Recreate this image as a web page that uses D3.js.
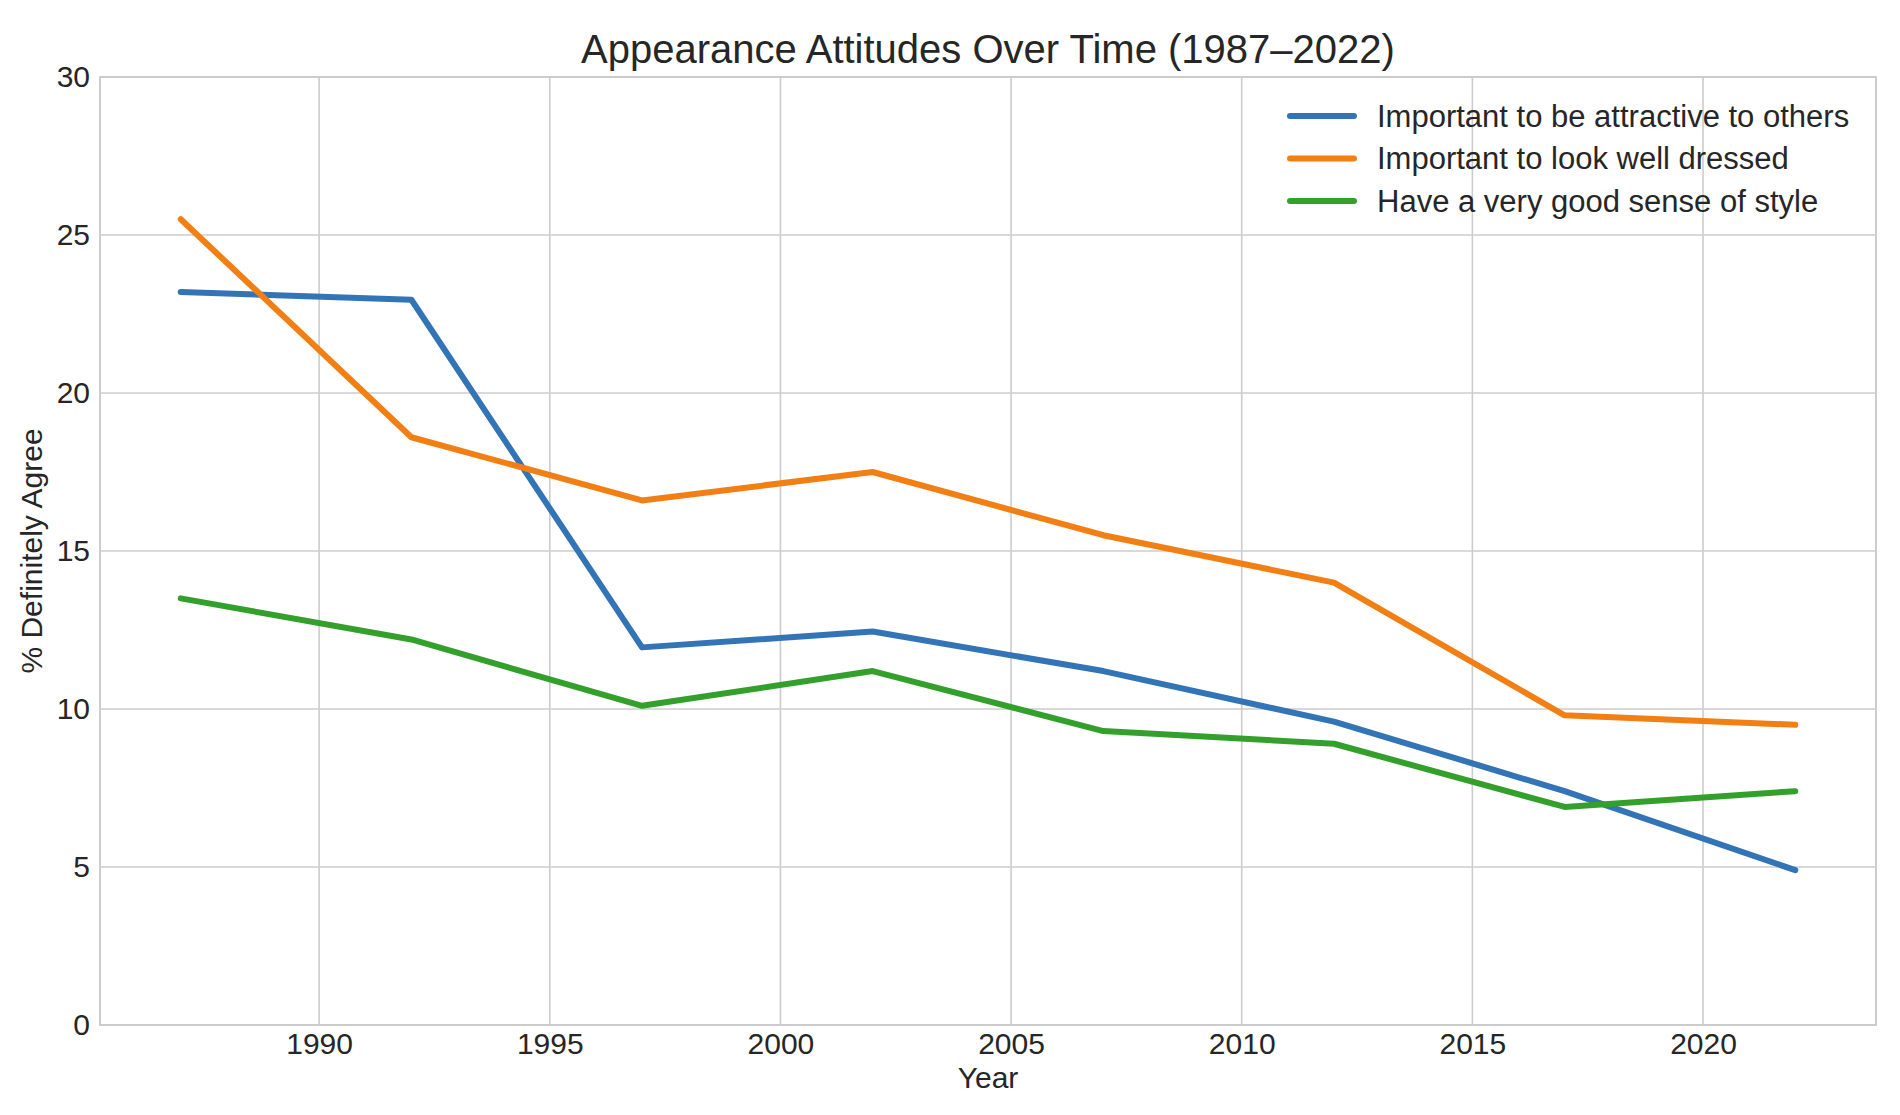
<!DOCTYPE html>
<html>
<head>
<meta charset="utf-8">
<script src="https://cdn.jsdelivr.net/npm/d3@7"></script>
<style>
  html, body { margin: 0; padding: 0; background: #fff; }
  svg { display: block; font-family: "Liberation Sans", Arial, sans-serif; }
</style>
</head>
<body>
<svg id="chart" width="1900" height="1115"></svg>
<script>
  // Survey years and series (% definitely agree).
  const years = [1987, 1992, 1997, 2002, 2007, 2012, 2017, 2022];
  const attractive = [23.2, 22.95, 11.95, 12.45, 11.2, 9.6, 7.4, 4.9];
  const wellDressed = [25.5, 18.6, 16.6, 17.5, 15.5, 14.0, 9.8, 9.5];
  const goodStyle = [13.5, 12.2, 10.1, 11.2, 9.3, 8.9, 6.9, 7.4];

  const seriesNames = [
    'Important to be attractive to others',
    'Important to look well dressed',
    'Have a very good sense of style'
  ];
  const seriesColors = ['#3274b5', '#f27f14', '#33a02c'];
  const xTicks = [1990, 1995, 2000, 2005, 2010, 2015, 2020];
  const yTicks = [0, 5, 10, 15, 20, 25, 30];

  const series = [attractive, wellDressed, goodStyle].map(function(vals, i) {
    return {
      name: seriesNames[i],
      color: seriesColors[i],
      values: years.map(function(y, j) { return {year: y, value: vals[j]}; })
    };
  });

  const margin = {left: 100, right: 24, top: 77, bottom: 90},
      width = 1900,
      height = 1115;

  const svg = d3.select('#chart');

  // matplotlib style 5% padding on x.
  const span = years[years.length - 1] - years[0];
  const x = d3.scaleLinear()
    .domain([years[0] - span * 0.05, years[years.length - 1] + span * 0.05])
    .range([margin.left, width - margin.right]);
  const y = d3.scaleLinear()
    .domain([0, 30])
    .range([height - margin.bottom, margin.top]);

  const textColor = '#262626',
      gridColor = '#cccccc',
      fontSize = '30px';

  // Grid.
  const grid = svg.append('g');
  grid.selectAll('line.xg')
    .data(xTicks)
    .join('line')
    .attr('class', 'xg')
    .attr('x1', d => x(d)).attr('x2', d => x(d))
    .attr('y1', y(0)).attr('y2', y(30))
    .attr('stroke', gridColor)
    .attr('stroke-width', 1.6);
  grid.selectAll('line.yg')
    .data(yTicks)
    .join('line')
    .attr('class', 'yg')
    .attr('x1', x.range()[0]).attr('x2', x.range()[1])
    .attr('y1', d => y(d)).attr('y2', d => y(d))
    .attr('stroke', gridColor)
    .attr('stroke-width', 1.6);

  // Frame.
  svg.append('rect')
    .attr('x', x.range()[0])
    .attr('y', y(30))
    .attr('width', x.range()[1] - x.range()[0])
    .attr('height', y(0) - y(30))
    .attr('fill', 'none')
    .attr('stroke', gridColor)
    .attr('stroke-width', 2);

  // Axes (labels only, lines handled above).
  const xAxis = svg.append('g')
    .attr('transform', 'translate(0,' + y(0) + ')')
    .call(d3.axisBottom(x).tickValues(xTicks).tickFormat(d3.format('d')).tickSize(0).tickPadding(8));
  const yAxis = svg.append('g')
    .attr('transform', 'translate(' + x.range()[0] + ',0)')
    .call(d3.axisLeft(y).tickValues(yTicks).tickSize(0).tickPadding(10));

  [xAxis, yAxis].forEach(function(a) {
    a.select('.domain').remove();
    a.selectAll('text')
      .attr('fill', textColor)
      .style('font-family', '"Liberation Sans", Arial, sans-serif')
      .style('font-size', fontSize);
  });

  // Lines.
  const line = d3.line()
    .x(d => x(d.year))
    .y(d => y(d.value));

  svg.append('g')
    .selectAll('path')
    .data(series)
    .join('path')
    .attr('d', d => line(d.values))
    .attr('fill', 'none')
    .attr('stroke', d => d.color)
    .attr('stroke-width', 6)
    .attr('stroke-linejoin', 'round')
    .attr('stroke-linecap', 'round');

  // Title.
  svg.append('text')
    .attr('x', (x.range()[0] + x.range()[1]) / 2)
    .attr('y', 63)
    .attr('text-anchor', 'middle')
    .attr('fill', textColor)
    .style('font-size', '40px')
    .text('Appearance Attitudes Over Time (1987\u20132022)');

  // Axis titles.
  svg.append('text')
    .attr('x', (x.range()[0] + x.range()[1]) / 2)
    .attr('y', 1088)
    .attr('text-anchor', 'middle')
    .attr('fill', textColor)
    .style('font-size', fontSize)
    .text('Year');

  svg.append('text')
    .attr('transform', 'translate(42,' + ((y(0) + y(30)) / 2) + ') rotate(-90)')
    .attr('text-anchor', 'middle')
    .attr('fill', textColor)
    .style('font-size', fontSize)
    .text('% Definitely Agree');

  // Legend.
  const legend = svg.append('g')
    .attr('transform', 'translate(1290,116)');
  const item = legend.selectAll('g')
    .data(series)
    .join('g')
    .attr('transform', (d, i) => 'translate(0,' + (i * 42.5) + ')');
  item.append('line')
    .attr('x1', 0).attr('x2', 64)
    .attr('y1', 0).attr('y2', 0)
    .attr('stroke', d => d.color)
    .attr('stroke-width', 6)
    .attr('stroke-linecap', 'round');
  item.append('text')
    .attr('x', 87)
    .attr('y', 0)
    .attr('dy', '0.35em')
    .attr('fill', textColor)
    .style('font-size', '31px')
    .text(d => d.name);
</script>
</body>
</html>
